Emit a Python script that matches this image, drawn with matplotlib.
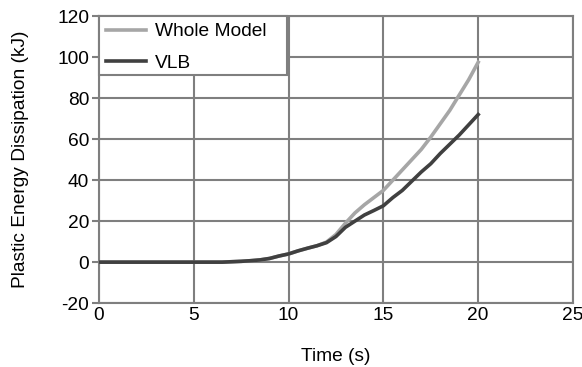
import matplotlib
matplotlib.use("Agg")
import matplotlib.pyplot as plt
from matplotlib.patches import Rectangle

plt.rcParams['font.family'] = ['Liberation Sans', 'DejaVu Sans']
plt.rcParams['axes.unicode_minus'] = False

# time (s)
time_s = [0, 1, 2, 3, 4, 5, 6, 6.5, 7, 7.5, 8, 8.5, 9, 9.5, 10, 10.5, 11, 11.5, 12,
          12.5, 13, 13.5, 14, 14.5, 15, 15.5, 16, 16.5, 17, 17.5, 18, 18.5, 19, 19.5, 20]
# plastic energy dissipation (kJ)
whole_model = [0, 0, 0, 0, 0, 0, 0, 0, 0.2, 0.4, 0.7, 1.1, 1.8, 3.0, 4.0, 5.5, 6.8, 8.0, 9.8,
               13.5, 19.0, 24.0, 28.0, 31.5, 35.0, 40.0, 45.0, 50.0, 55.0, 61.0, 67.5, 74.0, 81.5, 89.0, 97.5]
vlb = [0, 0, 0, 0, 0, 0, 0, 0, 0.2, 0.4, 0.7, 1.1, 1.8, 3.0, 4.0, 5.5, 6.8, 8.0, 9.5,
       12.5, 17.0, 20.0, 23.0, 25.2, 27.5, 31.5, 35.0, 39.5, 44.0, 48.0, 53.0, 57.5, 62.0, 67.0, 72.0]

grid_col = '#7f7f7f'
fs = 13.8

fig = plt.figure(figsize=(5.82, 3.67), dpi=100)
ax = fig.add_axes([0.170, 0.174, 0.8145, 0.782])

ax.plot(time_s, whole_model, color='#a6a6a6', lw=2.6, label='Whole Model', zorder=3)
ax.plot(time_s, vlb, color='#404040', lw=2.6, label='VLB', zorder=3)

ax.set_xlim(0, 25)
ax.set_ylim(-20, 120)
ax.set_xticks(range(0, 26, 5))
ax.set_yticks(range(-20, 121, 20))
ax.grid(True, color=grid_col, lw=1.5)
ax.set_axisbelow(True)
for s in ax.spines.values():
    s.set_color(grid_col)
    s.set_linewidth(1.5)
ax.tick_params(axis='both', labelsize=fs, color=grid_col, width=1.5)
ax.tick_params(axis='x', length=0, pad=3)
ax.tick_params(axis='y', length=5, pad=2)

ax.set_xlabel('Time (s)', fontsize=fs, labelpad=17)
ax.set_ylabel('Plastic Energy Dissipation (kJ)', fontsize=fs, labelpad=20)

# legend box
ax.add_patch(Rectangle((0, 0.7944), 0.3966, 0.2056, transform=ax.transAxes,
                       facecolor='white', edgecolor=grid_col, lw=1.5, zorder=4, clip_on=False))
leg = ax.legend(loc='upper left', bbox_to_anchor=(0.0, 1.0), frameon=False, fontsize=fs,
                handlelength=2.1, handletextpad=0.45, labelspacing=0.75, borderaxespad=0.05,
                borderpad=0.3)
leg.set_zorder(5)

fig.savefig('out.png', dpi=100)
